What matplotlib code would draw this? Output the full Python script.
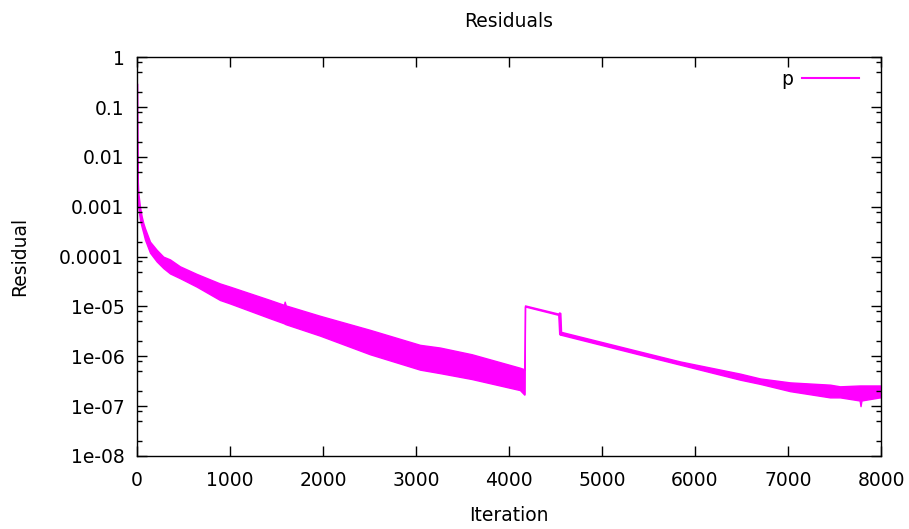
import numpy as np
import matplotlib
matplotlib.use('Agg')
import matplotlib.pyplot as plt
from matplotlib.ticker import FixedLocator, FixedFormatter, NullFormatter

# 잔차 곡선의 위/아래 포락선
iteration = [0, 2, 5, 14, 32, 50, 68, 86, 140, 212, 283, 355, 462, 642, 892, 1000,
             1430, 1580, 1588, 1600, 1968, 2505, 3043, 3258, 3600, 4118, 4165, 4168, 4172,
             4530, 4540, 4552, 4560, 5408, 5839, 6484, 6699, 7022, 7452, 7559, 7770, 7780,
             7790, 7989, 8000]
upper = [0.3, 0.03, 4.7e-3, 1.9e-3, 1.0e-3, 6.5e-4, 4.7e-4, 3.7e-4, 2.0e-4, 1.37e-4, 1.0e-4,
         8.8e-5, 6.4e-5, 4.5e-5, 2.9e-5, 2.5e-5,
         1.35e-5, 1.08e-5, 1.25e-5, 1.05e-5, 6.5e-6, 3.4e-6, 1.7e-6, 1.5e-6, 1.1e-6, 5.9e-7,
         5.5e-7, 5.5e-7, 1.05e-5,
         7.2e-6, 7.6e-6, 7.4e-6, 3.1e-6, 1.25e-6, 7.9e-7, 4.5e-7, 3.6e-7, 3.0e-7, 2.7e-7,
         2.5e-7, 2.6e-7, 2.6e-7, 2.6e-7, 2.6e-7, 2.5e-7]
lower = [0.3, 0.01, 2.5e-3, 1.0e-3, 5.5e-4, 4.0e-4, 3.0e-4, 2.2e-4, 1.2e-4, 8.0e-5, 5.9e-5,
         4.6e-5, 3.7e-5, 2.5e-5, 1.35e-5, 1.15e-5,
         5.8e-6, 4.6e-6, 4.5e-6, 4.4e-6, 2.6e-6, 1.1e-6, 5.4e-7, 4.6e-7, 3.5e-7, 2.1e-7,
         1.7e-7, 1.8e-7, 1.0e-5,
         6.8e-6, 2.8e-6, 2.7e-6, 2.7e-6, 1.08e-6, 6.8e-7, 3.4e-7, 2.8e-7, 2.0e-7, 1.5e-7,
         1.5e-7, 1.3e-7, 1.0e-7, 1.3e-7, 1.5e-7, 1.5e-7]

ytick_vals = [1, 0.1, 0.01, 0.001, 0.0001, 1e-05, 1e-06, 1e-07, 1e-08]
ytick_labels = ['1', '0.1', '0.01', '0.001', '0.0001', '1e-05', '1e-06', '1e-07', '1e-08']
xtick_vals = [0, 1000, 2000, 3000, 4000, 5000, 6000, 7000, 8000]

plt.rcParams['font.family'] = ['DejaVu Sans']
fs = 13.5

fig = plt.figure(figsize=(9.09, 5.29), dpi=100)
ax = fig.add_axes([0.1507, 0.138, 0.8185, 0.7537])

color = '#ff00ff'
ax.fill_between(iteration, lower, upper, color=color, linewidth=1.0, edgecolor=color)
ax.plot([], [], color=color, linewidth=1.5, label='p')  # 범례용

ax.set_yscale('log')
ax.set_xlim(0, 8000)
ax.set_ylim(1e-08, 1)

ax.yaxis.set_major_locator(FixedLocator(ytick_vals))
ax.yaxis.set_major_formatter(FixedFormatter(ytick_labels))
minor = [m * 10.0 ** e for e in range(-8, 0) for m in (2, 5, 8)]
ax.yaxis.set_minor_locator(FixedLocator(minor))
ax.yaxis.set_minor_formatter(NullFormatter())
ax.set_xticks(xtick_vals)

ax.tick_params(which='both', direction='in', top=True, right=True, width=1.0,
               colors='black', labelsize=fs)
ax.tick_params(which='major', length=7)
ax.tick_params(which='minor', length=3.5)
ax.tick_params(axis='x', which='major', pad=11)
ax.tick_params(axis='y', which='major', pad=9)
ax.tick_params(axis='x', which='minor', top=False, bottom=False)
for s in ax.spines.values():
    s.set_linewidth(1.0)

ax.set_title('Residuals', fontsize=fs, pad=22)
ax.set_xlabel('Iteration', fontsize=fs, labelpad=11.5)
ax.set_ylabel('Residual', fontsize=fs, labelpad=22)

ax.legend(loc='upper right', bbox_to_anchor=(0.995, 1.015), frameon=False,
          markerfirst=False, handlelength=3.0, handletextpad=0.5,
          borderaxespad=0.6, fontsize=fs)

fig.savefig('out.png', dpi=100)
